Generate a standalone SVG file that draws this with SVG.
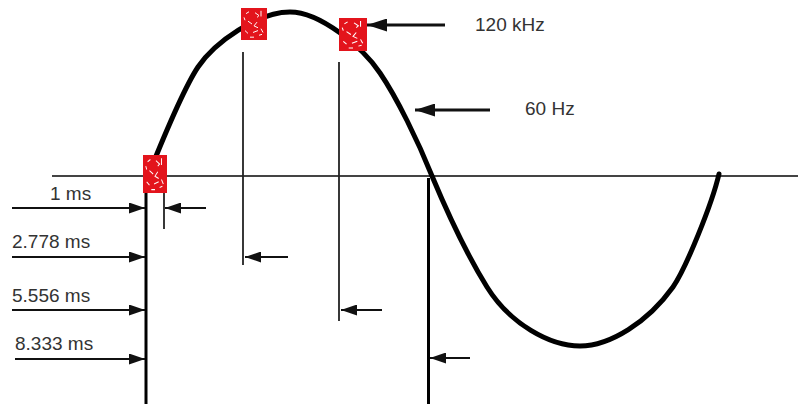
<svg xmlns="http://www.w3.org/2000/svg" xmlns:xlink="http://www.w3.org/1999/xlink" width="798" height="404" viewBox="0 0 798 404">
<style>
.lbl{font-family:"Liberation Sans",Arial,sans-serif;font-size:19px;fill:#333}
.arr{stroke:#111;stroke-width:2;fill:none}
.big{stroke:#111;stroke-width:3;fill:none}
.thin{stroke:#222;stroke-width:1.8;fill:none}
.thick{stroke:#000;stroke-width:3;fill:none}
.wave{stroke:#000;stroke-width:5;fill:none;stroke-linecap:round;stroke-linejoin:round}
</style>
<defs>
<marker id="ah" markerUnits="userSpaceOnUse" markerWidth="16" markerHeight="11" refX="16" refY="5.5" orient="auto">
<path d="M0,0 L16,5.5 L0,11 Z" fill="#111"/>
</marker>
<marker id="ahb" markerUnits="userSpaceOnUse" markerWidth="20" markerHeight="13" refX="20" refY="6.5" orient="auto">
<path d="M0,0 L20,6.5 L0,13 Z" fill="#111"/>
</marker>
<symbol id="blk" viewBox="0 0 26 34" preserveAspectRatio="none">
<rect x="0" y="0" width="26" height="34" fill="#e3141c"/>
<path d="M5,6 l3,-2 M14,5 l4,3 l-2,2 M20,3 l0,6 M7,14 l4,3 M16,15 l-3,4 l4,2 M4,24 l3,3 M12,26 l5,-2 M20,22 l2,4 M9,31 l4,0 M3,10 l1,3 M18,29 l3,-1" stroke="#fff" stroke-width="1" fill="none"/>
</symbol>
</defs>
<rect width="798" height="404" fill="#fff"/>
<g id="axis">
<line x1="52" y1="176" x2="798" y2="176" stroke="#444" stroke-width="2"/>
</g>
<g id="wave">
<path class="wave" d="M148,176 C160,146 184,88 198,67 C215,42 258,12 290,12 C320,12 362,46.5 380,73 C397,98 418,141 432,176 C450,219 469,258 487,287 C510,324 550,346 580,346 C610,346 648,322 673,287 C686,268 712,204 719,174"/>
</g>
<g id="samples">
<use xlink:href="#blk" x="143" y="155" width="24" height="38"/>
<use xlink:href="#blk" x="241" y="8" width="26" height="32"/>
<use xlink:href="#blk" x="339" y="18" width="28" height="33"/>
</g>
<g id="connectors">
<line class="thick" x1="146" y1="193" x2="146" y2="404"/>
<line class="thick" x1="428.5" y1="178" x2="428.5" y2="404"/>
<line class="thin" x1="164" y1="193" x2="164" y2="229"/>
<line class="thin" x1="243" y1="52" x2="243" y2="265"/>
<line class="thin" x1="339" y1="62" x2="339" y2="321"/>
<line class="arr" x1="12" y1="208" x2="145" y2="208" marker-end="url(#ah)"/>
<line class="arr" x1="12" y1="257" x2="145" y2="257" marker-end="url(#ah)"/>
<line class="arr" x1="12" y1="310" x2="145" y2="310" marker-end="url(#ah)"/>
<line class="arr" x1="15" y1="359" x2="145" y2="359" marker-end="url(#ah)"/>
<line class="arr" x1="206" y1="208" x2="165" y2="208" marker-end="url(#ah)"/>
<line class="arr" x1="288" y1="257" x2="245" y2="257" marker-end="url(#ah)"/>
<line class="arr" x1="382" y1="310" x2="341" y2="310" marker-end="url(#ah)"/>
<line class="arr" x1="470" y1="358" x2="430" y2="358" marker-end="url(#ah)"/>
<line class="big" x1="445" y1="25" x2="367" y2="25" marker-end="url(#ahb)"/>
<line class="big" x1="490" y1="110" x2="415" y2="110" marker-end="url(#ahb)"/>
</g>
<g id="labels">
<text class="lbl" x="50" y="200">1 ms</text>
<text class="lbl" x="12" y="248">2.778 ms</text>
<text class="lbl" x="12" y="302">5.556 ms</text>
<text class="lbl" x="15" y="350">8.333 ms</text>
<text class="lbl" x="475" y="31">120 kHz</text>
<text class="lbl" x="525" y="115">60 Hz</text>
</g>
</svg>
